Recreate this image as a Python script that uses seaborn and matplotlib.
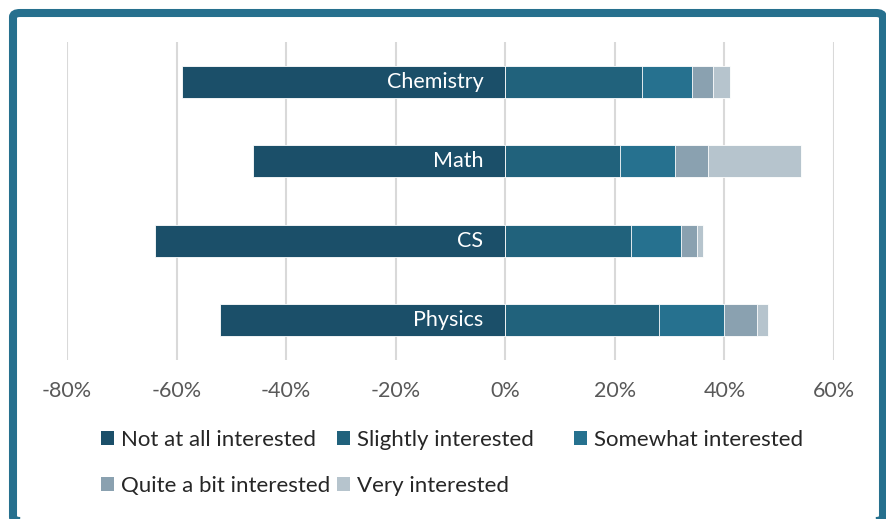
import matplotlib
matplotlib.use("Agg")
import matplotlib.pyplot as plt
from matplotlib.patches import Patch, FancyBboxPatch
import seaborn as sns
import pandas as pd
import numpy as np

subjects = ["Chemistry", "Math", "CS", "Physics"]
levels = ["Not at all interested", "Slightly interested", "Somewhat interested",
          "Quite a bit interested", "Very interested"]
not_at_all = [59, 46, 64, 52]
slightly = [25, 21, 23, 28]
somewhat = [9, 10, 9, 12]
quite = [4, 6, 3, 6]
very = [3, 17, 1, 2]
ticks = [-80, -60, -40, -20, 0, 20, 40, 60]

colors = ["#1b4f69", "#21627c", "#26718f", "#8aa1b0", "#b6c4cd"]

sns.set_theme(style="white")
plt.rcParams["font.family"] = ["Lato", "DejaVu Sans"]

df = pd.DataFrame({"subject": subjects, "not": not_at_all, "slightly": slightly,
                   "somewhat": somewhat, "quite": quite, "very": very})
# cumulative positive stacks, drawn longest first so shorter ones sit on top
df["c1"] = df["slightly"]
df["c2"] = df["c1"] + df["somewhat"]
df["c3"] = df["c2"] + df["quite"]
df["c4"] = df["c3"] + df["very"]
df["neg"] = -df["not"]

fig = plt.figure(figsize=(8.86, 5.19), dpi=100)
ax = fig.add_axes([67 / 886, 1 - 360 / 519, (834 - 67) / 886, (360 - 42) / 519])

bar_kw = dict(orient="h", order=subjects, width=0.4, edgecolor="white",
              linewidth=0.6, saturation=1, ax=ax)
sns.barplot(data=df, x="c4", y="subject", color=colors[4], **bar_kw)
sns.barplot(data=df, x="c3", y="subject", color=colors[3], **bar_kw)
sns.barplot(data=df, x="c2", y="subject", color=colors[2], **bar_kw)
sns.barplot(data=df, x="c1", y="subject", color=colors[1], **bar_kw)
sns.barplot(data=df, x="neg", y="subject", color=colors[0], **bar_kw)

for i, s in enumerate(subjects):
    ax.text(-4, i, s, ha="right", va="center", color="white", fontsize=15.5)

ax.set_xlim(-80, 60)
ax.set_ylim(3.5, -0.5)
ax.set_xticks(ticks)
ax.set_xticklabels([f"{t}%" for t in ticks], color="#595959", fontsize=15.5)
ax.set_yticks([])
ax.set_xlabel("")
ax.set_ylabel("")
ax.tick_params(axis="x", length=0, pad=15)
ax.grid(axis="x", color="#d9d9d9", linewidth=1.5)
ax.set_axisbelow(True)
for sp in ax.spines.values():
    sp.set_visible(False)

# legend: Excel-style flow, two columns + a third column for "Somewhat"
handles = [Patch(facecolor=c, edgecolor="none") for c in colors]
leg_kw = dict(loc="upper left", frameon=False, fontsize=16, handlelength=0.6,
              handleheight=0.6, handletextpad=0.3, labelspacing=1.15,
              borderpad=0, borderaxespad=0, labelcolor="#262626")
order = [0, 3, 1, 4]
fig.legend([handles[i] for i in order], [levels[i] for i in order],
           bbox_to_anchor=(101 / 886, 1 - 430 / 519), ncol=2,
           columnspacing=0.3, **leg_kw)
fig.legend([handles[2]], [levels[2]],
           bbox_to_anchor=(574 / 886, 1 - 430 / 519), **leg_kw)

frame = FancyBboxPatch((13 / 886, -2 / 519), (883 - 13) / 886, (519 - 13 + 2) / 519,
                       boxstyle="round,pad=0,rounding_size=0.008",
                       transform=fig.transFigure, fill=False,
                       edgecolor="#26708e", linewidth=5.8, clip_on=False)
fig.patches.append(frame)

fig.savefig("out.png", dpi=100)
